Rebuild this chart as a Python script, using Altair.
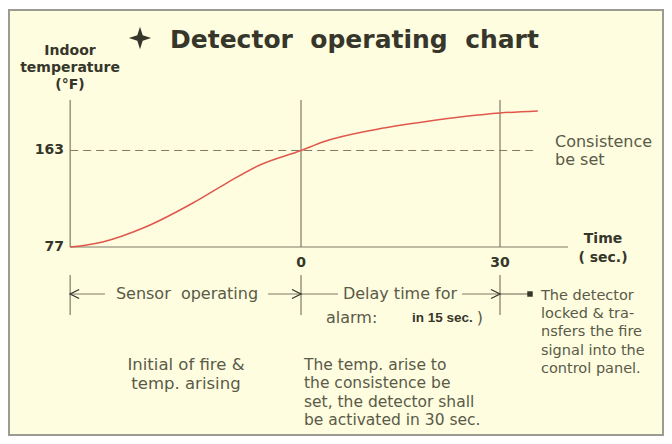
import altair as alt
import pandas as pd

# ---- values ----
time_s = [-34.8, -32.3, -29.9, -23.8, -16.3, -11.2, -6.2, 0, 3.3, 10.9, 18.4, 30, 35.7]
temp_f = [77, 78.8, 81.5, 93.9, 116.2, 134, 150.1, 163, 170.6, 181.3, 188.4, 196.4, 198.2]
y_ticks = [77, 163]
x_ticks = [0, 30]
set_temp = 163
origin_t = -34.8
marker_times = [origin_t, 0, 30]

# ---- layout (data-space positions of frame & annotations) ----
X_DOM = [-44.17, 54.72]
Y_DOM = [-91.43, 289.99]
AXIS_TOP = 208
AXIS_END = 40.25
DASH_END = 35.73
MARK_TOP, MARK_BOT = 52.05, 16.4
ROW_T = 35.11
YLAB_T = -35.73   # x position of y tick labels (right edge)
XLAB_T = 62.74    # y position of x tick labels (centre)

BG = "#FEFDE0"
LINE = "#7f7b64"
CURVE = "#E0584C"
DARK = "#36362a"
BODY = "#5a5a48"
NB = "\u00a0"

xs = alt.Scale(domain=X_DOM, nice=False, zero=False)
ys = alt.Scale(domain=Y_DOM, nice=False, zero=False)


def X(field="t"):
    return alt.X(f"{field}:Q", scale=xs, axis=None)


def Y(field="T"):
    return alt.Y(f"{field}:Q", scale=ys, axis=None)


panel = alt.Chart(pd.DataFrame({"a": [0]})).mark_rect(
    fill=BG, stroke="#9b9b92", strokeWidth=2
).encode(x=alt.value(1), x2=alt.value(655), y=alt.value(2), y2=alt.value(427))

vert = pd.DataFrame({"t": marker_times, "T": [y_ticks[0]] * 3, "T2": [AXIS_TOP] * 3})
vert_rules = alt.Chart(vert).mark_rule(color=LINE, strokeWidth=1.2).encode(
    x=X(), y=Y(), y2="T2:Q")

xaxis_line = alt.Chart(pd.DataFrame({"t": [origin_t], "t2": [AXIS_END], "T": [y_ticks[0]]})).mark_rule(
    color=LINE, strokeWidth=1.2).encode(x=X(), x2="t2:Q", y=Y())

dashed = alt.Chart(pd.DataFrame({"t": [origin_t], "t2": [DASH_END], "T": [set_temp]})).mark_rule(
    color=LINE, strokeWidth=1, strokeDash=[8, 5]).encode(x=X(), x2="t2:Q", y=Y())

curve = alt.Chart(pd.DataFrame({"t": time_s, "T": temp_f})).mark_line(
    color=CURVE, strokeWidth=1.5, interpolate="monotone").encode(x=X(), y=Y())

markers = alt.Chart(pd.DataFrame({"t": marker_times, "T": [MARK_TOP] * 3, "T2": [MARK_BOT] * 3})).mark_rule(
    color=LINE, strokeWidth=1.2).encode(x=X(), y=Y(), y2="T2:Q")

segs = pd.DataFrame({
    "t": [origin_t, -4.97, 0, 24.27, 30],
    "t2": [-29.55, 0, 5.58, 30, 34.52],
    "T": [ROW_T] * 5,
})
seg_rules = alt.Chart(segs).mark_rule(color=LINE, strokeWidth=1.2).encode(x=X(), x2="t2:Q", y=Y())

left_head = alt.Chart(pd.DataFrame({"t": [origin_t], "T": [ROW_T]})).mark_point(
    shape="M1,-0.5L0,0L1,0.5", filled=False, size=324, color=DARK, strokeWidth=1.3, opacity=1
).encode(x=X(), y=Y())
right_head = alt.Chart(pd.DataFrame({"t": [0, 30], "T": [ROW_T] * 2})).mark_point(
    shape="M-1,-0.5L0,0L-1,0.5", filled=False, size=324, color=DARK, strokeWidth=1.3, opacity=1
).encode(x=X(), y=Y())
dot = alt.Chart(pd.DataFrame({"t": [34.52], "T": [ROW_T]})).mark_point(
    shape="square", filled=True, size=30, color=DARK, opacity=1).encode(x=X(), y=Y())

star = alt.Chart(pd.DataFrame({"t": [-24.27], "T": [263.3]})).mark_point(
    shape="M0,-1L0.24,-0.24L1,0L0.24,0.24L0,1L-0.24,0.24L-1,0L-0.24,-0.24Z",
    filled=True, size=500, color=DARK, opacity=1).encode(x=X(), y=Y())


def text_layer(rows, **mk):
    df = pd.DataFrame(rows, columns=["t", "T", "s"])
    return alt.Chart(df).mark_text(lineBreak="\n", **mk).encode(x=X(), y=Y(), text="s:N")


ytick_lab = text_layer([(YLAB_T, v, str(v)) for v in y_ticks],
                       font="DejaVu Sans", fontSize=14, fontWeight="bold", color=DARK,
                       align="right", baseline="middle")
xtick_lab = text_layer([(v, XLAB_T, str(v)) for v in x_ticks],
                       font="DejaVu Sans", fontSize=14, fontWeight="bold", color=DARK,
                       align="center", baseline="middle")

title = text_layer([(-19.75, 254.35, f"Detector{NB} operating{NB} chart")],
                   font="DejaVu Sans", fontSize=25, fontWeight="bold", color=DARK,
                   align="left", baseline="alphabetic")

ylab = text_layer([(-34.82, 248.1, "Indoor\ntemperature\n(°F)")],
                  font="DejaVu Sans", fontSize=14, fontWeight="bold", color=DARK,
                  align="center", baseline="alphabetic", lineHeight=17)

xlab = text_layer([(45.53, 80.56, "Time\n(" + NB + "sec.)")],
                  font="DejaVu Sans", fontSize=14, fontWeight="bold", color=DARK,
                  align="center", baseline="alphabetic", lineHeight=19)

setlab = text_layer([(38.29, 166.1, "Consistence\nbe set")],
                    font="DejaVu Sans", fontSize=16, color=BODY,
                    align="left", baseline="alphabetic", lineHeight=18)

phase = text_layer([(-17.19, ROW_T, f"Sensor{NB} operating"), (14.92, ROW_T, "Delay time for")],
                   font="DejaVu Sans", fontSize=16, color=BODY,
                   align="center", baseline="middle")

alarm = text_layer([(3.77, 13.7, "alarm:"), (26.5, 13.7, ")")],
                   font="DejaVu Sans", fontSize=16, color=BODY,
                   align="left", baseline="middle")
alarm_b = text_layer([(16.73, 13.7, "in 15 sec.")],
                     font="Liberation Sans", fontSize=13.5, fontWeight="bold", color=DARK,
                     align="left", baseline="middle")

note_left = text_layer([(-17.34, -32.6, "Initial of fire &\ntemp. arising")],
                       font="DejaVu Sans", fontSize=16.5, color=BODY,
                       align="center", baseline="alphabetic", lineHeight=19.5)
note_mid = text_layer([(0.45, -32.6, "The temp. arise to\nthe consistence be\nset, the detector shall\nbe activated in 30 sec.")],
                      font="DejaVu Sans", fontSize=15.5, color=BODY,
                      align="left", baseline="alphabetic", lineHeight=18.4)
note_right = text_layer([(36.18, 29.8, "The detector\nlocked & tra-\nnsfers the fire\nsignal into the\ncontrol panel.")],
                        font="DejaVu Sans", fontSize=14.5, color=BODY,
                        align="left", baseline="alphabetic", lineHeight=18.2)

chart = alt.layer(
    panel, vert_rules, xaxis_line, dashed, curve, markers, seg_rules,
    left_head, right_head, dot, star, ytick_lab, xtick_lab, title, ylab, xlab,
    setlab, phase, alarm, alarm_b, note_left, note_mid, note_right,
).properties(
    width=656, height=428, padding=0, autosize=alt.AutoSizeParams(type="none"),
    background="white",
).configure_view(stroke=None)

chart.save("out.html", embed_options={"renderer": "svg", "actions": False})
